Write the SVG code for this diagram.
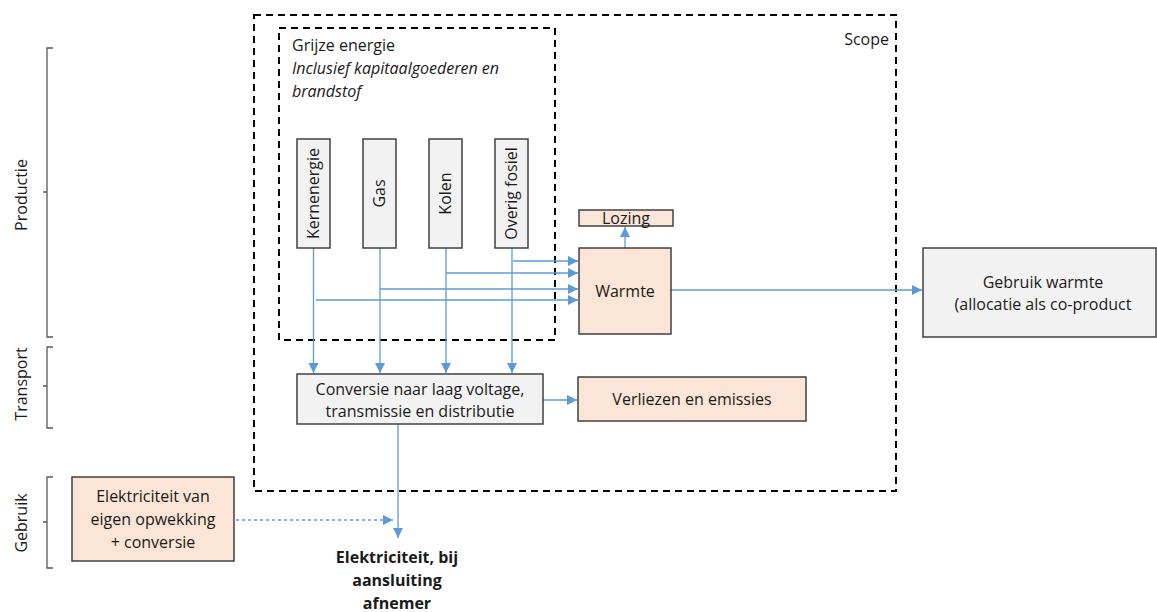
<svg xmlns="http://www.w3.org/2000/svg" width="1157" height="612" viewBox="0 0 1157 612">
<defs>
<marker id="ah" viewBox="0 0 10 10" refX="10" refY="5" markerWidth="10" markerHeight="10" markerUnits="userSpaceOnUse" orient="auto">
<path d="M0,0 L10,5 L0,10 z" fill="#5b9bd5"/>
</marker>
<style>
.t{font-family:"Open Sans","Liberation Sans",Arial,sans-serif;font-size:16px;fill:#1a1a1a}
.c{text-anchor:middle}
.box{stroke:#404040;stroke-width:1.5}
.gray{fill:#f2f2f2}
.peach{fill:#fbe5d6}
.dash{fill:none;stroke:#000;stroke-width:2;stroke-dasharray:7,5}
.br{fill:none;stroke:#595959;stroke-width:1.3}
.ln{fill:none;stroke:#5b9bd5;stroke-width:1.3;marker-end:url(#ah)}
</style>
</defs>
<rect width="1157" height="612" fill="#fff"/>

<g id="brackets">
<path class="br" d="M53,48 H47 V337 H53 M47,192 H43"/>
<path class="br" d="M53,347 H47 V428 H53 M47,386 H43"/>
<path class="br" d="M53,477 H47 V568 H53 M47,522 H43"/>
<text class="t c" transform="translate(27,195) rotate(-90)">Productie</text>
<text class="t c" transform="translate(27,384) rotate(-90)">Transport</text>
<text class="t c" transform="translate(27,523) rotate(-90)">Gebruik</text>
</g>

<g id="scope">
<rect class="dash" x="254" y="15" width="642" height="476"/>
<text class="t" x="889" y="45" text-anchor="end">Scope</text>
</g>

<g id="grijze">
<rect class="dash" x="279" y="28" width="276" height="312"/>
<text class="t" x="292" y="51">Grijze energie</text>
<text class="t" x="292" y="74" font-style="italic">Inclusief kapitaalgoederen en</text>
<text class="t" x="292" y="97" font-style="italic">brandstof</text>
</g>

<g id="connectors">
<line class="ln" x1="313.5" y1="248" x2="313.5" y2="373"/>
<line class="ln" x1="380" y1="248" x2="380" y2="373"/>
<line class="ln" x1="446" y1="248" x2="446" y2="373"/>
<line class="ln" x1="512" y1="248" x2="512" y2="373"/>
<line class="ln" x1="513" y1="261" x2="578" y2="261"/>
<line class="ln" x1="446" y1="273" x2="578" y2="273"/>
<line class="ln" x1="380" y1="289" x2="578" y2="289"/>
<line class="ln" x1="316" y1="300" x2="578" y2="300"/>
<line class="ln" x1="625" y1="248" x2="625" y2="227"/>
<line class="ln" x1="671" y1="290" x2="922" y2="290"/>
<line class="ln" x1="543" y1="400" x2="577" y2="400"/>
<line class="ln" x1="398" y1="424" x2="398" y2="538"/>
<line class="ln" x1="230" y1="520" x2="393" y2="520" stroke-dasharray="3,3"/>
</g>

<g id="kernenergie">
<rect class="box gray" x="297" y="139" width="33" height="109"/>
<text class="t c" transform="translate(319,193.5) rotate(-90)">Kernenergie</text>
</g>
<g id="gas">
<rect class="box gray" x="363" y="139" width="33" height="109"/>
<text class="t c" transform="translate(385,193.5) rotate(-90)">Gas</text>
</g>
<g id="kolen">
<rect class="box gray" x="429" y="139" width="33" height="109"/>
<text class="t c" transform="translate(451,193.5) rotate(-90)">Kolen</text>
</g>
<g id="overig">
<rect class="box gray" x="495" y="139" width="33" height="109"/>
<text class="t c" transform="translate(517,193.5) rotate(-90)">Overig fosiel</text>
</g>

<g id="lozing">
<rect class="box peach" x="579" y="210" width="94" height="16"/>
<text class="t c" x="626" y="224">Lozing</text>
</g>
<g id="warmte">
<rect class="box peach" x="579" y="248" width="92" height="86"/>
<text class="t c" x="625" y="297">Warmte</text>
</g>
<g id="gebruikwarmte">
<rect class="box gray" x="923" y="248" width="233" height="89"/>
<text class="t c" x="1043" y="288">Gebruik warmte</text>
<text class="t c" x="1043" y="310">(allocatie als co-product</text>
</g>
<g id="conversie">
<rect class="box gray" x="297" y="374" width="246" height="50"/>
<text class="t c" x="420" y="395">Conversie naar laag voltage,</text>
<text class="t c" x="420" y="417">transmissie en distributie</text>
</g>
<g id="verliezen">
<rect class="box peach" x="578" y="377" width="228" height="44"/>
<text class="t c" x="692" y="405">Verliezen en emissies</text>
</g>
<g id="eigen">
<rect class="box peach" x="72" y="477" width="162" height="84"/>
<text class="t c" x="153" y="502">Elektriciteit van</text>
<text class="t c" x="153" y="525">eigen opwekking</text>
<text class="t c" x="153" y="548">+ conversie</text>
</g>
<g id="afnemer">
<text class="t c" x="397" y="563" font-weight="bold">Elektriciteit, bij</text>
<text class="t c" x="397" y="586" font-weight="bold">aansluiting</text>
<text class="t c" x="397" y="609" font-weight="bold">afnemer</text>
</g>
</svg>
